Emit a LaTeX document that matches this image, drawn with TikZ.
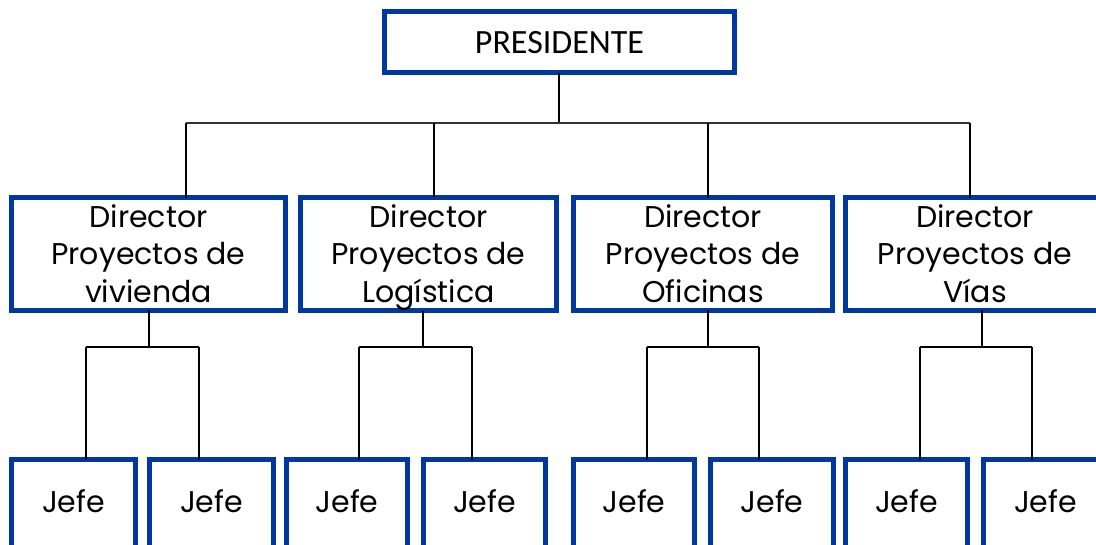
\documentclass[tikz,border=0pt]{standalone}
\usepackage{fontspec}
\setmainfont{Poppins}
\newfontfamily\presfont{Carlito}
\definecolor{boxblue}{RGB}{0,56,160}
\newcommand{\dstrut}{\rule[-7.4pt]{0pt}{37pt}}
\newcommand{\jstrut}{\rule[-5pt]{0pt}{25pt}}
\newcommand{\pstrut}{\rule{0pt}{24pt}}
\begin{document}
\begin{tikzpicture}[x=1pt,y=-1pt,
  bluebox/.style={draw=boxblue,line width=5pt,inner sep=0pt,outer sep=0pt,fill=white,
    font=\fontsize{30}{37}\selectfont,align=center,text=black},
  dirbox/.style={bluebox,minimum height=111pt},
  jefebox/.style={bluebox,minimum height=88.5pt},
  link/.style={draw=black,line width=1.5pt}]
\useasboundingbox (0,0) rectangle (1096,544);
% President
\node[bluebox,minimum width=350pt,minimum height=61pt,font=\presfont\fontsize{34}{37}\selectfont] (p) at (559.5,42) {\pstrut PRESIDENTE};
% Directors
\node[dirbox,minimum width=274pt] (d1) at (148.5,254) {\dstrut Director\\\dstrut Proyectos de\\\dstrut vivienda};
\node[dirbox,minimum width=256pt] (d2) at (428.5,254) {\dstrut Director\\\dstrut Proyectos de\\\dstrut Logística};
\node[dirbox,minimum width=259pt] (d3) at (703,254) {\dstrut Director\\\dstrut Proyectos de\\\dstrut Oficinas};
\node[dirbox,minimum width=259pt] (d4) at (975,254) {\dstrut Director\\\dstrut Proyectos de\\\dstrut Vías};
% Jefes
\node[jefebox,minimum width=124pt] (j1) at (73.5,503.75) {\jstrut Jefe};
\node[jefebox,minimum width=124pt] (j2) at (211.5,503.75) {\jstrut Jefe};
\node[jefebox,minimum width=121pt] (j3) at (347,503.75) {\jstrut Jefe};
\node[jefebox,minimum width=122pt] (j4) at (484.5,503.75) {\jstrut Jefe};
\node[jefebox,minimum width=121pt] (j5) at (634,503.75) {\jstrut Jefe};
\node[jefebox,minimum width=123pt] (j6) at (772,503.75) {\jstrut Jefe};
\node[jefebox,minimum width=122pt] (j7) at (906.5,503.75) {\jstrut Jefe};
\node[jefebox,minimum width=124pt] (j8) at (1045.5,503.75) {\jstrut Jefe};
% coordinates of the bus lines
\coordinate (b0) at (559,123);
\coordinate (t1) at (186,123);
\coordinate (t2) at (434,123);
\coordinate (t3) at (708,123);
\coordinate (t4) at (970,123);
\coordinate (m1) at (149,347);
\coordinate (m2) at (423,347);
\coordinate (m3) at (708,347);
\coordinate (m4) at (982,347);
\coordinate (l1) at (86,347);   \coordinate (r1) at (199,347);
\coordinate (l2) at (359,347);  \coordinate (r2) at (472,347);
\coordinate (l3) at (647,347);  \coordinate (r3) at (759,347);
\coordinate (l4) at (920,347);  \coordinate (r4) at (1032,347);
% top level
\draw[link] (p.south -| b0) -- (b0);
\draw[link,line width=2pt,draw=black!80] (t1) -- (t4);
\draw[link] (t1) -- (t1 |- d1.north);
\draw[link] (t2) -- (t2 |- d2.north);
\draw[link] (t3) -- (t3 |- d3.north);
\draw[link] (t4) -- (t4 |- d4.north);
% second level
\draw[link] (m1 |- d1.south) -- (m1);
\draw[link] (l1) -- (r1);
\draw[link] (l1) -- (l1 |- j1.north);
\draw[link] (r1) -- (r1 |- j2.north);
\draw[link] (m2 |- d2.south) -- (m2);
\draw[link] (l2) -- (r2);
\draw[link] (l2) -- (l2 |- j3.north);
\draw[link] (r2) -- (r2 |- j4.north);
\draw[link] (m3 |- d3.south) -- (m3);
\draw[link] (l3) -- (r3);
\draw[link] (l3) -- (l3 |- j5.north);
\draw[link] (r3) -- (r3 |- j6.north);
\draw[link] (m4 |- d4.south) -- (m4);
\draw[link] (l4) -- (r4);
\draw[link] (l4) -- (l4 |- j7.north);
\draw[link] (r4) -- (r4 |- j8.north);
\end{tikzpicture}
\end{document}
